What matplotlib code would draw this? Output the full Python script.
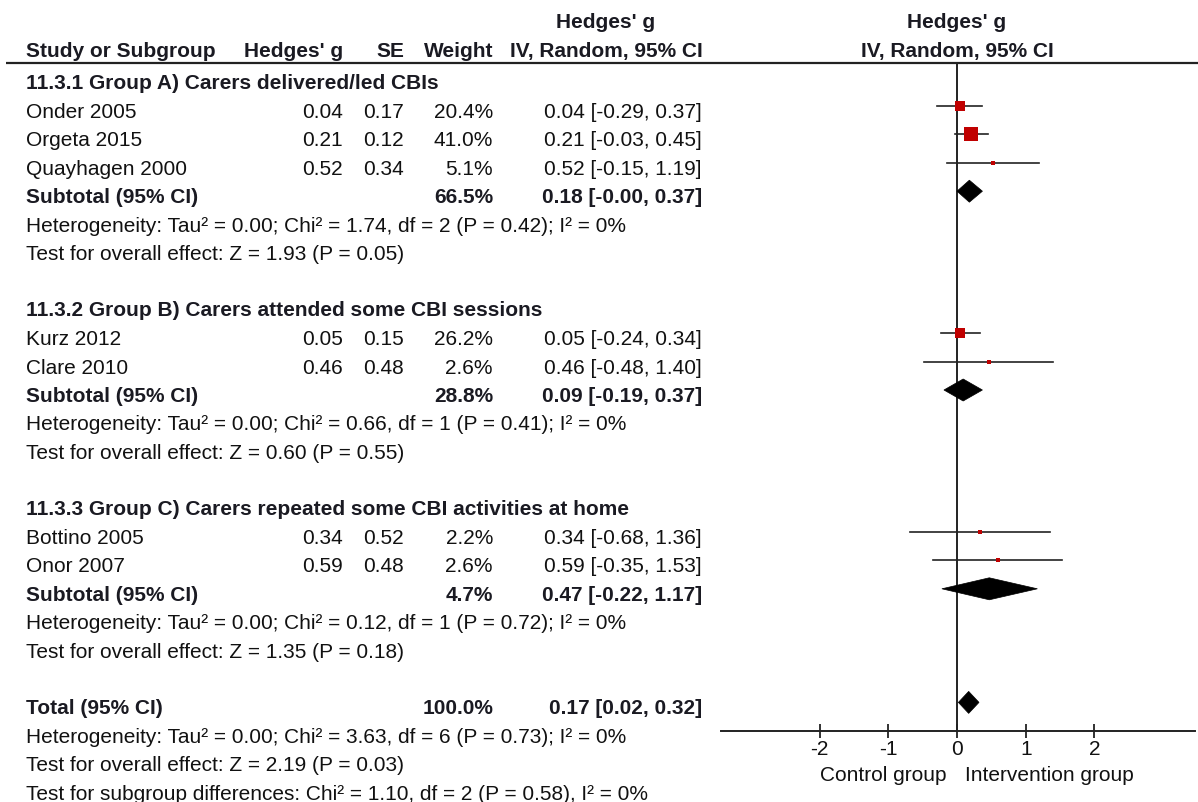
import matplotlib
matplotlib.use("Agg")
import matplotlib.pyplot as plt
from matplotlib.patches import Polygon

# ---------------- data ----------------
group_titles = ["11.3.1 Group A) Carers delivered/led CBIs",
                "11.3.2 Group B) Carers attended some CBI sessions",
                "11.3.3 Group C) Carers repeated some CBI activities at home"]
studies = ["Onder 2005", "Orgeta 2015", "Quayhagen 2000",
           "Kurz 2012", "Clare 2010",
           "Bottino 2005", "Onor 2007"]
study_group = [0, 0, 0, 1, 1, 2, 2]
hedges_g = [0.04, 0.21, 0.52, 0.05, 0.46, 0.34, 0.59]
se = [0.17, 0.12, 0.34, 0.15, 0.48, 0.52, 0.48]
weight = [20.4, 41.0, 5.1, 26.2, 2.6, 2.2, 2.6]
ci_lo = [-0.29, -0.03, -0.15, -0.24, -0.48, -0.68, -0.35]
ci_hi = [0.37, 0.45, 1.19, 0.34, 1.40, 1.36, 1.53]

sub_weight = [66.5, 28.8, 4.7]
sub_est = [0.18, 0.09, 0.47]
sub_lo = [-0.00, -0.19, -0.22]
sub_hi = [0.37, 0.37, 1.17]
sub_het = ["Heterogeneity: Tau\u00b2 = 0.00; Chi\u00b2 = 1.74, df = 2 (P = 0.42); I\u00b2 = 0%",
           "Heterogeneity: Tau\u00b2 = 0.00; Chi\u00b2 = 0.66, df = 1 (P = 0.41); I\u00b2 = 0%",
           "Heterogeneity: Tau\u00b2 = 0.00; Chi\u00b2 = 0.12, df = 1 (P = 0.72); I\u00b2 = 0%"]
sub_test = ["Test for overall effect: Z = 1.93 (P = 0.05)",
            "Test for overall effect: Z = 0.60 (P = 0.55)",
            "Test for overall effect: Z = 1.35 (P = 0.18)"]

total_weight = 100.0
total_est, total_lo, total_hi = 0.17, 0.02, 0.32
total_notes = ["Heterogeneity: Tau\u00b2 = 0.00; Chi\u00b2 = 3.63, df = 6 (P = 0.73); I\u00b2 = 0%",
               "Test for overall effect: Z = 2.19 (P = 0.03)",
               "Test for subgroup differences: Chi\u00b2 = 1.10, df = 2 (P = 0.58), I\u00b2 = 0%"]

xticks = [-2, -1, 0, 1, 2]
xticklabels = ["-2", "-1", "0", "1", "2"]
left_label = "Control group"
right_label = "Intervention group"

# ---------------- layout ----------------
W, H = 1198, 803
plt.rcParams['font.family'] = ['Liberation Sans', 'DejaVu Sans']
FS = 15
TXT = "#111111"
BTXT = "#1a1a22"
RED = "#c00000"
LINE = "#222222"

fig = plt.figure(figsize=(W / 100, H / 100), dpi=100)
axt = fig.add_axes([0, 0, 1, 1])
axt.set_xlim(0, W)
axt.set_ylim(H, 0)
axt.axis("off")

X0_PX, ZERO_PX, PX_PER_UNIT, X1_PX = 721, 957, 68.7, 1195
axf = fig.add_axes([X0_PX / W, 0, (X1_PX - X0_PX) / W, 1])
axf.set_xlim((X0_PX - ZERO_PX) / PX_PER_UNIT, (X1_PX - ZERO_PX) / PX_PER_UNIT)
axf.set_ylim(H, 0)
axf.patch.set_visible(False)
for s in ["top", "left", "right"]:
    axf.spines[s].set_visible(False)
AXIS_Y = 732
axf.spines["bottom"].set_position(("data", AXIS_Y))
axf.spines["bottom"].set_linewidth(1.4)
axf.spines["bottom"].set_color(LINE)
axf.set_yticks([])
axf.set_xticks(xticks)
axf.set_xticklabels(xticklabels, fontsize=FS)
axf.tick_params(axis="x", direction="inout", length=10, width=1.3, pad=1,
                color=LINE, labelcolor=TXT)


def row_y(r):
    return 107 + (r - 4) * 28.4


BL = 11  # baseline offset below the mark centre
C_STUDY, C_G, C_SE, C_W, C_CI = 26, 343, 404, 493, 702
CI_HDR_CENTER = 606


def txt(x, y, s, ha="left", bold=False):
    axt.text(x, y, s, fontsize=FS, fontweight="bold" if bold else "normal",
             color=BTXT if bold else TXT, ha=ha, va="baseline")


# headers
txt(CI_HDR_CENTER, 28, "Hedges' g", ha="center", bold=True)
hb = 57
txt(C_STUDY, hb, "Study or Subgroup", bold=True)
txt(C_G, hb, "Hedges' g", ha="right", bold=True)
txt(C_SE, hb, "SE", ha="right", bold=True)
txt(C_W, hb, "Weight", ha="right", bold=True)
txt(CI_HDR_CENTER, hb, "IV, Random, 95% CI", ha="center", bold=True)
txt(ZERO_PX, 28, "Hedges' g", ha="center", bold=True)
txt(ZERO_PX, hb, "IV, Random, 95% CI", ha="center", bold=True)
axt.plot([6, W], [64, 64], color=LINE, lw=1.6, solid_capstyle="butt")

# zero line
axf.plot([0, 0], [64, AXIS_Y], color=LINE, lw=1.4)

r = 3
for gi, title in enumerate(group_titles):
    txt(C_STUDY, row_y(r) + BL - 1, title, bold=True)
    r += 1
    for i, name in enumerate(studies):
        if study_group[i] != gi:
            continue
        y = row_y(r)
        txt(C_STUDY, y + BL, name)
        txt(C_G, y + BL, f"{hedges_g[i]:.2f}", ha="right")
        txt(C_SE, y + BL, f"{se[i]:.2f}", ha="right")
        txt(C_W, y + BL, f"{weight[i]:.1f}%", ha="right")
        txt(C_CI, y + BL, f"{hedges_g[i]:.2f} [{ci_lo[i]:.2f}, {ci_hi[i]:.2f}]", ha="right")
        axf.plot([ci_lo[i], ci_hi[i]], [y, y], color=LINE, lw=1.2, zorder=2)
        side_px = max(2.1 * weight[i] ** 0.5, 3.6)
        axf.scatter([hedges_g[i]], [y], marker="s", s=(side_px * 0.72) ** 2,
                    color=RED, linewidths=0, zorder=3)
        r += 1
    y = row_y(r)
    txt(C_STUDY, y + BL, "Subtotal (95% CI)", bold=True)
    txt(C_W, y + BL, f"{sub_weight[gi]:.1f}%", ha="right", bold=True)
    txt(C_CI, y + BL, f"{sub_est[gi]:.2f} [{sub_lo[gi]:.2f}, {sub_hi[gi]:.2f}]", ha="right", bold=True)
    dh = 11
    axf.add_patch(Polygon([[sub_lo[gi], y], [sub_est[gi], y - dh], [sub_hi[gi], y], [sub_est[gi], y + dh]],
                          closed=True, facecolor="black", edgecolor="black", lw=0.5, zorder=3))
    r += 1
    txt(C_STUDY, row_y(r) + BL, sub_het[gi])
    r += 1
    txt(C_STUDY, row_y(r) + BL, sub_test[gi])
    r += 2

y = row_y(r)
txt(C_STUDY, y + BL, "Total (95% CI)", bold=True)
txt(C_W, y + BL, f"{total_weight:.1f}%", ha="right", bold=True)
txt(C_CI, y + BL, f"{total_est:.2f} [{total_lo:.2f}, {total_hi:.2f}]", ha="right", bold=True)
dh = 11
axf.add_patch(Polygon([[total_lo, y], [total_est, y - dh], [total_hi, y], [total_est, y + dh]],
                      closed=True, facecolor="black", edgecolor="black", lw=0.5, zorder=3))
r += 1
for note in total_notes:
    txt(C_STUDY, row_y(r) + BL, note)
    r += 1

txt(947, 781, left_label, ha="right")
txt(965, 781, right_label, ha="left")

fig.savefig("out.png", dpi=100)
